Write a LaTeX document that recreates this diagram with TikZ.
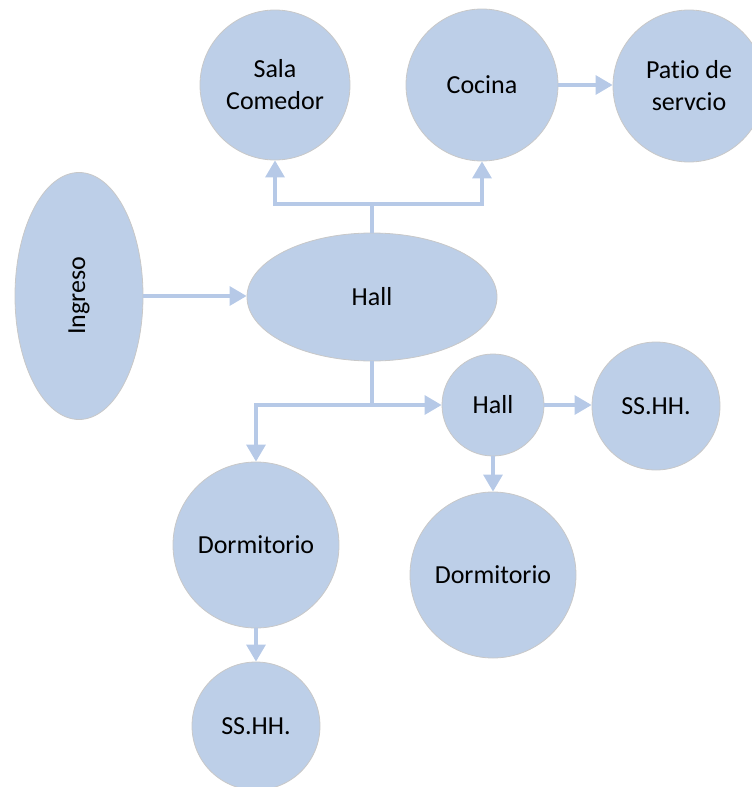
\documentclass[tikz,border=0pt]{standalone}
\usepackage{fontspec}
\setmainfont[Ligatures=NoCommon]{Carlito}
\usetikzlibrary{shapes.geometric,arrows.meta}
\definecolor{bubble}{RGB}{189,207,232}
\definecolor{bline}{RGB}{182,201,231}
\definecolor{bedge}{RGB}{200,200,200}
\tikzset{
  room/.style={circle,fill=bubble,draw=bedge,line width=0.8pt,inner sep=0pt,align=center,
    font=\fontsize{26}{32}\selectfont,text=black},
  oval/.style={ellipse,fill=bubble,draw=bedge,line width=0.8pt,inner sep=0pt,align=center,
    font=\fontsize{26}{32}\selectfont,text=black},
  link/.style={draw=bline,line width=3.2pt},
  arr/.style={link,-{Triangle[width=19pt,length=17pt]}}
}
\begin{document}
\begin{tikzpicture}[x=1pt,y=-1pt]
\useasboundingbox (0,0) rectangle (752,787);
\node[room,minimum size=150pt] (sala) at (275,85) {Sala\\Comedor};
\node[room,minimum size=152pt] (cocina) at (482,85) {Cocina};
\node[room,minimum size=152pt] (patio) at (689,86) {Patio de\\servcio};
\node[oval,minimum width=128pt,minimum height=247pt] (ingreso) at (79,296) {\rotatebox{90}{Ingreso}};
\node[oval,minimum width=250pt,minimum height=128pt] (hall) at (372,297) {Hall};
\node[room,minimum size=102pt] (hall2) at (493,405) {Hall};
\node[room,minimum size=128pt] (sshh1) at (656,406) {SS.HH.};
\node[room,minimum size=166pt] (dorm1) at (256,545) {Dormitorio};
\node[room,minimum size=166pt] (dorm2) at (493,575) {Dormitorio};
\node[room,minimum size=128pt] (sshh2) at (256,726) {SS.HH.};
\coordinate (jt) at (372,204);
\coordinate (jb) at (372,405);
\draw[link] (hall.north) -- (jt);
\draw[arr] (jt) -| (sala.south);
\draw[arr] (jt) -| (cocina.south);
\draw[arr] (cocina.east) -- (cocina.east -| patio.west);
\draw[arr] (ingreso.east) -- (ingreso.east -| hall.west);
\draw[link] (hall.south) -- (jb);
\draw[arr] (jb) -| (dorm1.north);
\draw[arr] (jb) -- (hall2.west);
\draw[arr] (hall2.east) -- (hall2.east -| sshh1.west);
\draw[arr] (hall2.south) -- (dorm2.north);
\draw[arr] (dorm1.south) -- (sshh2.north);
\end{tikzpicture}
\end{document}
